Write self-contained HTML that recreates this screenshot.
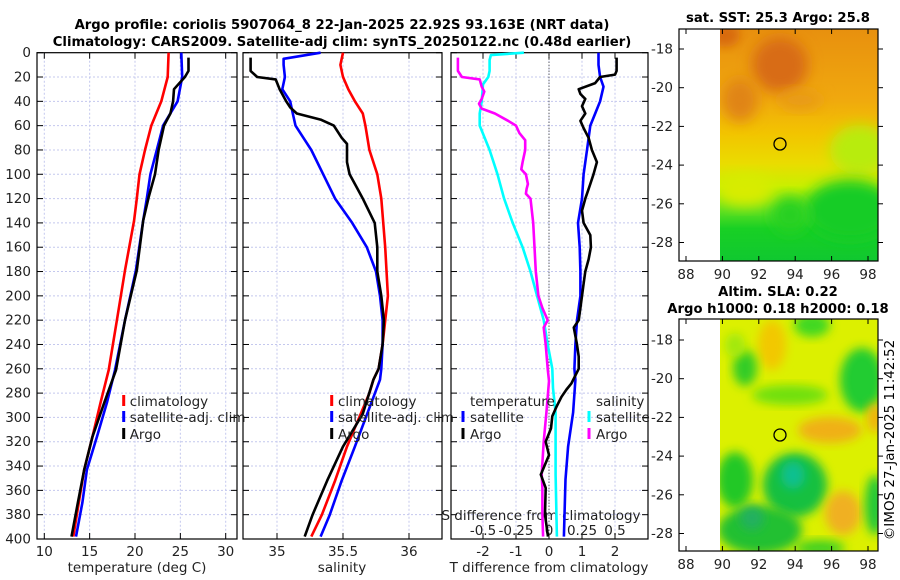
<!DOCTYPE html>
<html><head><meta charset="utf-8"><style>
body{margin:0;background:#fff}
svg{display:block;font-family:"DejaVu Sans","Liberation Sans",sans-serif}
</style></head><body>
<svg id="fig" width="900" height="580" viewBox="0 0 900 580">
<defs>
<filter id="bl" x="-30%" y="-30%" width="160%" height="160%"><feGaussianBlur stdDeviation="7"/></filter>
<filter id="bl2" x="-30%" y="-30%" width="160%" height="160%"><feGaussianBlur stdDeviation="5"/></filter>
<clipPath id="m1c"><rect x="720" y="29" width="158" height="232"/></clipPath>
<clipPath id="m2c"><rect x="720" y="319" width="158" height="232"/></clipPath>
<linearGradient id="sstg" x1="0" y1="0" x2="0" y2="1">
<stop offset="0" stop-color="#e8900e"/><stop offset="0.3" stop-color="#f0a80e"/><stop offset="0.45" stop-color="#f2c400"/><stop offset="0.58" stop-color="#eadc00"/><stop offset="0.68" stop-color="#c8f000"/><stop offset="0.78" stop-color="#60e020"/><stop offset="0.86" stop-color="#18d024"/><stop offset="1" stop-color="#10c830"/>
</linearGradient>
</defs>
<g font-weight="bold" font-size="13.2" text-anchor="middle">
<text x="342" y="29">Argo profile: coriolis 5907064_8 22-Jan-2025 22.92S 93.163E (NRT data)</text>
<text x="342" y="46">Climatology: CARS2009. Satellite-adj clim: synTS_20250122.nc (0.48d earlier)</text>
</g>
<g id="axes"></g>
<g id="series"></g>

<g>
<text x="778" y="22" font-size="13.2" font-weight="bold" text-anchor="middle">sat. SST: 25.3 Argo: 25.8</text>
<g clip-path="url(#m1c)">
<rect x="720" y="29" width="158" height="232" fill="url(#sstg)"/>
<ellipse cx="725" cy="35" rx="15" ry="12" fill="#d86a10" filter="url(#bl2)"/>
<ellipse cx="780" cy="65" rx="28" ry="28" fill="#d86c12" filter="url(#bl)"/>
<ellipse cx="740" cy="100" rx="18" ry="22" fill="#e08414" filter="url(#bl)"/>
<ellipse cx="800" cy="100" rx="22" ry="10" fill="#e89a14" filter="url(#bl)"/>
<ellipse cx="860" cy="150" rx="30" ry="25" fill="#b8ec10" filter="url(#bl)"/>
<ellipse cx="850" cy="210" rx="45" ry="30" fill="#14cc28" filter="url(#bl)"/>
<ellipse cx="790" cy="215" rx="18" ry="18" fill="#28d020" filter="url(#bl)"/>
<ellipse cx="745" cy="190" rx="28" ry="16" fill="#d8ec00" filter="url(#bl)"/>
</g>
<rect x="679" y="29" width="199" height="232" fill="none" stroke="#000" stroke-width="1.2"/>
<circle cx="780" cy="144" r="6" fill="none" stroke="#000" stroke-width="1.3"/>
</g>
<g>
<text x="778" y="296" font-size="13.2" font-weight="bold" text-anchor="middle">Altim. SLA: 0.22</text>
<text x="778" y="313" font-size="13.2" font-weight="bold" text-anchor="middle">Argo h1000: 0.18 h2000: 0.18</text>
<g clip-path="url(#m2c)">
<rect x="720" y="319" width="158" height="232" fill="#dcf000"/>
<ellipse cx="772" cy="345" rx="14" ry="25" fill="#f2c800" filter="url(#bl2)"/>
<ellipse cx="812" cy="325" rx="18" ry="12" fill="#40d820" filter="url(#bl2)"/>
<ellipse cx="745" cy="368" rx="12" ry="18" fill="#30cc28" filter="url(#bl2)"/>
<ellipse cx="735" cy="345" rx="10" ry="12" fill="#a0e810" filter="url(#bl2)"/>
<ellipse cx="862" cy="380" rx="22" ry="32" fill="#20cc30" filter="url(#bl2)"/>
<ellipse cx="790" cy="395" rx="38" ry="10" fill="#70e010" filter="url(#bl2)"/>
<ellipse cx="830" cy="430" rx="32" ry="13" fill="#f0b018" filter="url(#bl2)"/>
<ellipse cx="875" cy="418" rx="8" ry="15" fill="#f0b010" filter="url(#bl2)"/>
<ellipse cx="735" cy="480" rx="18" ry="28" fill="#20c828" filter="url(#bl2)"/>
<ellipse cx="795" cy="485" rx="32" ry="32" fill="#18c040" filter="url(#bl2)"/>
<ellipse cx="793" cy="475" rx="12" ry="14" fill="#10c090" filter="url(#bl2)"/>
<ellipse cx="760" cy="530" rx="42" ry="24" fill="#20c030" filter="url(#bl2)"/>
<ellipse cx="752" cy="518" rx="12" ry="12" fill="#20b060" filter="url(#bl2)"/>
<ellipse cx="843" cy="513" rx="18" ry="22" fill="#f0b020" filter="url(#bl2)"/>
<ellipse cx="875" cy="505" rx="10" ry="30" fill="#20c838" filter="url(#bl2)"/>
<ellipse cx="820" cy="548" rx="25" ry="8" fill="#40d020" filter="url(#bl2)"/>
</g>
<rect x="679" y="319" width="199" height="232" fill="none" stroke="#000" stroke-width="1.2"/>
<circle cx="780" cy="435" r="6" fill="none" stroke="#000" stroke-width="1.3"/>
</g>
<text transform="translate(894,440) rotate(-90)" font-size="13.5" text-anchor="middle">©IMOS 27-Jan-2025 11:42:52</text>
<g id="mapaxes"></g>
</svg>
<script>
// ---- Panel 1: temperature ----
const climTDepth = [0,20,40,60,80,100,120,138,179,220,261,288,316,343,370,398];
const climT = [23.7,23.6,22.9,21.8,21.1,20.5,20.2,19.9,18.9,18.0,17.1,16.2,15.3,14.4,13.8,13.2];
const satT = [25.1,25.2,24.7,23.1,22.4,21.7,21.3,20.9,20.1,18.9,17.8,16.9,15.8,14.7,14.2,13.5];
const argoTDepth = [4,15,20,25,30,40,50,60,80,100,119,138,179,220,261,288,316,343,370,398];
const argoT = [25.9,25.9,25.5,24.9,24.3,24.2,23.9,23.2,22.6,22.2,21.5,20.9,20.2,18.9,17.9,16.6,15.3,14.4,13.7,13.0];
// ---- Panel 2: salinity ----
const climSDepth = [0,10,20,30,40,50,60,80,100,120,160,200,240,260,269,280,324,352,380,398];
const climS = [35.50,35.48,35.50,35.54,35.59,35.65,35.67,35.70,35.76,35.79,35.82,35.84,35.80,35.77,35.73,35.70,35.53,35.44,35.34,35.26];
const satSDepth = [0,5,10,20,25,30,40,50,60,70,80,100,120,140,160,180,200,220,240,260,269,324,352,380,398];
const satS = [35.33,35.05,35.05,35.06,35.05,35.04,35.10,35.12,35.14,35.20,35.26,35.35,35.44,35.57,35.68,35.75,35.78,35.80,35.80,35.79,35.78,35.59,35.49,35.40,35.33];
const argoSDepth = [4,15,20,22,30,40,45,50,55,60,70,75,90,100,110,120,140,160,180,200,220,240,260,269,297,324,352,380,398];
const argoS = [34.80,34.80,34.85,34.99,35.02,35.07,35.10,35.15,35.33,35.43,35.49,35.53,35.53,35.55,35.60,35.65,35.74,35.76,35.76,35.79,35.81,35.80,35.77,35.73,35.65,35.50,35.38,35.27,35.21];
// ---- Panel 3: differences ----
const dTSatDepth = [0,10,20,28,40,50,60,80,100,120,140,160,180,200,220,240,260,269,296,324,351,398];
const dTSat = [1.5,1.5,1.55,1.65,1.55,1.4,1.25,1.15,1.05,1.0,0.88,0.93,0.95,0.95,0.85,0.8,0.77,0.8,0.73,0.58,0.5,0.45];
const dTArgoDepth = [4,15,18,20,25,30,34,38,44,50,56,62,70,80,90,100,108,116,120,130,140,150,160,170,180,190,200,210,220,226,240,250,260,272,277,283,291,299,309,320,331,347,358,380,398];
const dTArgo = [2.05,2.05,2.0,1.55,1.4,0.9,0.95,1.1,1.0,1.1,0.95,1.05,1.2,1.3,1.45,1.35,1.25,1.15,1.1,1.0,1.05,1.25,1.27,1.2,1.1,1.05,1.0,0.95,0.9,0.75,0.85,0.9,0.9,0.68,0.53,0.38,0.23,0.1,0.06,-0.1,0.0,-0.25,-0.1,-0.12,-0.03];
const dSSatDepth = [0,2,6,15,20,26,40,50,60,64,80,100,120,140,160,180,200,220,240,260,276,296,347,398];
const dSSat = [-0.19,-0.44,-0.45,-0.45,-0.46,-0.5,-0.51,-0.525,-0.525,-0.51,-0.45,-0.39,-0.34,-0.275,-0.2,-0.14,-0.09,-0.04,-0.01,0.025,0.03,0.05,0.05,0.06];
const dSArgoDepth = [4,15,20,22,28,32,38,42,46,50,56,60,66,72,80,90,96,100,108,112,116,120,140,160,180,200,210,220,226,240,260,270,296,320,347,358,380,398];
const dSArgo = [-0.69,-0.69,-0.66,-0.525,-0.51,-0.49,-0.51,-0.53,-0.51,-0.41,-0.31,-0.25,-0.225,-0.18,-0.18,-0.2,-0.21,-0.175,-0.16,-0.17,-0.175,-0.14,-0.12,-0.11,-0.1,-0.08,-0.05,-0.01,-0.04,-0.025,-0.01,0,-0.02,-0.04,-0.055,-0.05,-0.05,-0.045];
// tick labels
const depthTicks = [0,20,40,60,80,100,120,140,160,180,200,220,240,260,280,300,320,340,360,380,400];
const tempTicks = [10,15,20,25,30];
const salTicks = [35,35.5,36];
const tdiffTicks = [-2,-1,0,1,2];
const sdiffTicks = [-0.5,-0.25,0,0.25,0.5];
const sdiffLabels = ["-0.5","-0.25","0","0.25","0.5"];
const latTicks = [-18,-20,-22,-24,-26,-28];
const lonTicks = [88,90,92,94,96,98];

const NS='http://www.w3.org/2000/svg';
const FS=13.5;
const axesG=document.getElementById('axes'), serG=document.getElementById('series'), mapAx=document.getElementById('mapaxes');
function mk(tag,attrs,parent){const e=document.createElementNS(NS,tag);for(const k in attrs)e.setAttribute(k,attrs[k]);parent.appendChild(e);return e;}
const TOP=52.7, BOT=539;
function yD(d){return TOP+(d/400)*(BOT-TOP);}
const xT=v=>44.3+(v-10)*9.07;
const xS=v=>277+(v-35)*132;
const xDT=v=>549+v*33;
const xDS=v=>549+v*132;
const panels=[{l:37,r:237,name:'temperature-panel'},{l:243,r:442,name:'salinity-panel'},{l:451,r:648,name:'difference-panel'}];

panels.forEach((p,i)=>{
  const g=mk('g',{},axesG);
  
  
  depthTicks.forEach(d=>{
    if(d>0&&d<400) mk('line',{x1:p.l,x2:p.r,y1:yD(d),y2:yD(d),stroke:'#c4c8ee','stroke-dasharray':'2,2','stroke-width':1},g);
    mk('line',{x1:p.l,x2:p.l+6,y1:yD(d),y2:yD(d),stroke:'#000'},g);
    mk('line',{x1:p.r-6,x2:p.r,y1:yD(d),y2:yD(d),stroke:'#000'},g);
    if(i===0){const t=mk('text',{x:31,y:yD(d)+4.5,'font-size':FS,'text-anchor':'end',fill:'#222'},g);t.textContent=d;
      
      }
  });
  let ticks,sc;
  if(i===0){ticks=tempTicks;sc=xT;} else if(i===1){ticks=salTicks;sc=xS;} else {ticks=tdiffTicks;sc=xDT;}
  ticks.forEach(v=>{
    const x=sc(v);
    mk('line',{x1:x,x2:x,y1:TOP,y2:BOT,stroke:'#c4c8ee','stroke-dasharray':'2,2','stroke-width':1},g);
    mk('line',{x1:x,x2:x,y1:BOT-6,y2:BOT,stroke:'#000'},g);
    mk('line',{x1:x,x2:x,y1:TOP,y2:TOP+6,stroke:'#000'},g);
    const t=mk('text',{x:x,y:556,'font-size':FS,'text-anchor':'middle',fill:'#222'},g);t.textContent=v;
    
    
  });
  mk('rect',{x:p.l,y:TOP,width:p.r-p.l,height:BOT-TOP,fill:'none',stroke:'#000','stroke-width':1.2},g);
});
[['temperature (deg C)',137,'temperature-axis-title'],['salinity',342,'salinity-axis-title'],['T difference from climatology',549,'t-difference-axis-title']].forEach(a=>{
  const t=mk('text',{x:a[1],y:572,'font-size':FS,'text-anchor':'middle',fill:'#222'},axesG);t.textContent=a[0];
  
  
});
mk('line',{x1:549,x2:549,y1:TOP,y2:BOT,stroke:'#333','stroke-dasharray':'1,2','stroke-width':1},axesG);
{const t=mk('text',{x:541,y:520,'font-size':FS,'text-anchor':'middle',fill:'#222'},axesG);t.textContent='S difference from climatology';

}
sdiffTicks.forEach((v,k)=>{const t=mk('text',{x:xDS(v),y:535,'font-size':FS,'text-anchor':'middle',fill:'#222'},axesG);t.textContent=sdiffLabels[k];
  
  });

function series(depths,vals,sc,color,name){
  const pts=depths.map((d,k)=>sc(vals[k]).toFixed(1)+','+yD(d).toFixed(1)).join(' ');
  const pl=mk('polyline',{points:pts,fill:'none',stroke:color,'stroke-width':2.6,'stroke-linejoin':'round'},serG);
  
  
}
series(dSSatDepth,dSSat,xDS,'#00ffff','s-diff-satellite-line');
series(dSArgoDepth,dSArgo,xDS,'#ff00ff','s-diff-argo-line');
series(dTSatDepth,dTSat,xDT,'#0000ff','t-diff-satellite-line');
series(dTArgoDepth,dTArgo,xDT,'#000000','t-diff-argo-line');
series(climTDepth,climT,xT,'#ff0000','temp-climatology-line');
series(climTDepth,satT,xT,'#0000ff','temp-satellite-line');
series(argoTDepth,argoT,xT,'#000000','temp-argo-line');
series(climSDepth,climS,xS,'#ff0000','sal-climatology-line');
series(satSDepth,satS,xS,'#0000ff','sal-satellite-line');
series(argoSDepth,argoS,xS,'#000000','sal-argo-line');

function legendItem(mx,tx,y,color,label,name){
  const g=mk('g',{},serG);
  
  
  if(color) mk('rect',{x:mx-1.5,y:y-11,width:3,height:11,fill:color},g);
  const t=mk('text',{x:tx,y:y,'font-size':FS,fill:'#222'},g);t.textContent=label;
}
[[123.7,129.7],[331.7,338]].forEach(c=>{
  legendItem(c[0],c[1],406,'#ff0000','climatology','legend-climatology');
  legendItem(c[0],c[1],422,'#0000ff','satellite-adj. clim','legend-satellite-adj');
  legendItem(c[0],c[1],439,'#000000','Argo','legend-argo');
});
legendItem(0,470,406,null,'temperature','legend-temperature-header');
legendItem(463,470,422,'#0000ff','satellite','legend-t-satellite');
legendItem(463,470,439,'#000000','Argo','legend-t-argo');
legendItem(0,596,406,null,'salinity','legend-salinity-header');
legendItem(589,596,422,'#00ffff','satellite','legend-s-satellite');
legendItem(589,596,439,'#ff00ff','Argo','legend-s-argo');

[[29,261,49,275],[319,551,340,565]].forEach(m=>{
  latTicks.forEach(lat=>{
    const y=m[2]+(-18-lat)*19.35;
    mk('line',{x1:679,x2:684,y1:y,y2:y,stroke:'#000'},mapAx);
    mk('line',{x1:878,x2:883,y1:y,y2:y,stroke:'#000'},mapAx);
    const t=mk('text',{x:673,y:y+4.5,'font-size':FS,'text-anchor':'end',fill:'#222'},mapAx);t.textContent=lat;
    
    
  });
  lonTicks.forEach(lon=>{
    const x=686+(lon-88)*18.2;
    mk('line',{x1:x,x2:x,y1:m[1]-5,y2:m[1],stroke:'#000'},mapAx);
    mk('line',{x1:x,x2:x,y1:m[0],y2:m[0]+5,stroke:'#000'},mapAx);
    const t=mk('text',{x:x,y:m[3]+4,'font-size':FS,'text-anchor':'middle',fill:'#222'},mapAx);t.textContent=lon;
    
    
  });
});
</script>
</body></html>
